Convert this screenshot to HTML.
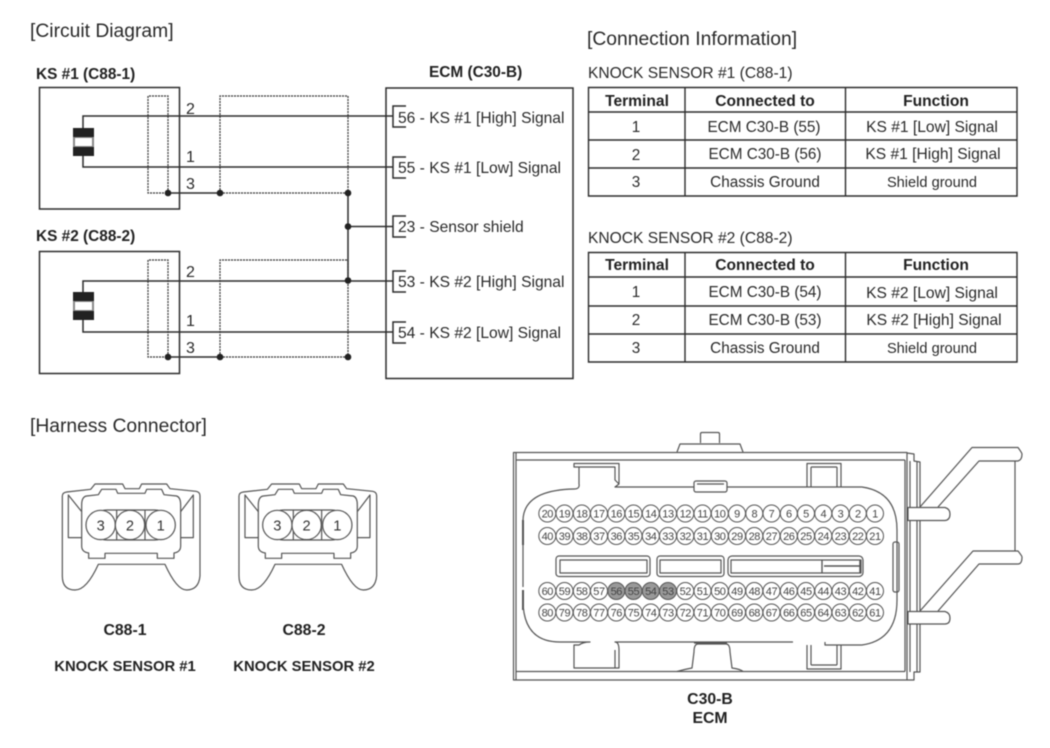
<!DOCTYPE html>
<html><head><meta charset="utf-8"><style>
html,body{margin:0;padding:0;background:#fff}
svg{display:block;filter:blur(.45px)}
text{font-family:"Liberation Sans",sans-serif;fill:#2a2a2a}
.h{font-size:19.3px}
.l{font-size:15.6px}
.b{font-size:15.4px;font-weight:bold;fill:#222}
.t{font-size:15.3px;text-anchor:middle}
.t2{font-size:15.6px;text-anchor:middle}
.t3{font-size:14.6px;text-anchor:middle}
.th{font-size:15.6px;font-weight:bold;text-anchor:middle;fill:#222}
.n{font-size:16px}
.w{fill:none;stroke:#2c2c2c;stroke-width:1.5}
.d{fill:none;stroke:#333;stroke-width:1.2;stroke-dasharray:2 1}
.p{fill:none;stroke:#555;stroke-width:3.6;stroke-linejoin:round}
.c circle{fill:#fff;stroke:#555;stroke-width:1}
.c text{font-size:11px;text-anchor:middle;fill:#444;letter-spacing:-.4px}
.cn{font-size:44px;text-anchor:middle;fill:#333}
.c .s{fill:#999}
.k{font-size:14.8px;font-weight:bold;fill:#222;text-anchor:middle}
.q{font-size:15.8px;font-weight:bold;fill:#222;text-anchor:middle}
</style></head><body>
<svg width="1050" height="748" viewBox="0 0 1050 748" xmlns="http://www.w3.org/2000/svg">
<rect width="1050" height="748" fill="#fff"/>
<text class="h" x="30" y="37">[Circuit Diagram]</text>
<text class="h" x="587" y="45">[Connection Information]</text>
<text class="h" x="30" y="432">[Harness Connector]</text>

<text class="b" x="36" y="79">KS #1 (C88-1)</text>
<text class="b" x="36" y="241">KS #2 (C88-2)</text>
<text class="b" x="429" y="77">ECM (C30-B)</text>

<rect class="w" x="39.5" y="87.5" width="140" height="121.5"/>
<rect class="w" x="39.5" y="251.5" width="140" height="122"/>
<rect class="w" x="386" y="88" width="187" height="290.5"/>

<path class="d" d="M168,193V96H148V193H168M220,193V96H348V193M220,193H348"/>
<path class="d" d="M168,357V260H148V357H168M220,357V260H348V357M220,357H348"/>
<path class="w" d="M83,128V116H393M83,156V167H393"/>
<path class="w" d="M83,292V281H393M83,320V332H393"/>
<path class="w" d="M168,193H220M168,357H220M348,193V281M348,226.5H393"/>
<g fill="#222">
<rect x="73" y="128" width="21" height="28" fill="#888"/>
<rect x="73" y="128" width="21" height="9"/><rect x="73" y="147" width="21" height="9"/>
<rect x="75" y="138" width="17" height="8" fill="#fff"/>
<rect x="73" y="292" width="21" height="28" fill="#888"/>
<rect x="73" y="292" width="21" height="9"/><rect x="73" y="311" width="21" height="9"/>
<rect x="75" y="302" width="17" height="8" fill="#fff"/>
<circle cx="168" cy="193" r="3.3"/><circle cx="220" cy="193" r="3.3"/>
<circle cx="168" cy="357" r="3.3"/><circle cx="220" cy="357" r="3.3"/>
<circle cx="348" cy="193" r="3.3"/><circle cx="348" cy="226.5" r="3.3"/>
<circle cx="348" cy="280.5" r="3.3"/><circle cx="348" cy="357" r="3.3"/>
</g>
<g class="n">
<text x="186" y="114">2</text><text x="186" y="162">1</text><text x="186" y="189">3</text>
<text x="186" y="277">2</text><text x="186" y="326">1</text><text x="186" y="353">3</text>
</g>
<path class="w" d="M406,106H393V127H406M406,157H393V178H406M406,216H393V237H406M406,271H393V292H406M406,322H393V343H406" stroke-width="1.2"/>
<g class="l">
<text x="398" y="123">56 - KS #1 [High] Signal</text>
<text x="398" y="173">55 - KS #1 [Low] Signal</text>
<text x="398" y="232">23 - Sensor shield</text>
<text x="398" y="287">53 - KS #2 [High] Signal</text>
<text x="398" y="338">54 - KS #2 [Low] Signal</text>
</g>

<text class="l" x="588" y="78">KNOCK SENSOR #1 (C88-1)</text>
<text class="l" x="588" y="243">KNOCK SENSOR #2 (C88-2)</text>
<g fill="none" stroke="#2c2c2c" stroke-width="1.4">
<path d="M588.5,87.5H1017V196H588.5ZM588.5,112H1017M588.5,140H1017M588.5,168H1017M685,87.5V196M845.5,87.5V196"/>
<path d="M588.5,252.5H1017V362H588.5ZM588.5,277H1017M588.5,306H1017M588.5,334H1017M685,252.5V362M845.5,252.5V362"/>
</g>
<text class="th" x="637" y="106">Terminal</text><text class="th" x="765" y="106">Connected to</text><text class="th" x="936" y="106">Function</text>
<text class="t" x="636" y="132">1</text><text class="t" x="764" y="132">ECM C30-B (55)</text><text class="t2" x="932" y="132">KS #1 [Low] Signal</text>
<text class="t" x="636" y="160">2</text><text class="t" x="765" y="159">ECM C30-B (56)</text><text class="t2" x="933" y="159">KS #1 [High] Signal</text>
<text class="t" x="636" y="187">3</text><text class="t" x="765" y="187">Chassis Ground</text><text class="t3" x="932" y="187">Shield ground</text>
<text class="th" x="637" y="270">Terminal</text><text class="th" x="765" y="270">Connected to</text><text class="th" x="936" y="270">Function</text>
<text class="t" x="636" y="297">1</text><text class="t" x="765" y="297">ECM C30-B (54)</text><text class="t2" x="932" y="298">KS #2 [Low] Signal</text>
<text class="t" x="636" y="325">2</text><text class="t" x="765" y="325">ECM C30-B (53)</text><text class="t2" x="934" y="325">KS #2 [High] Signal</text>
<text class="t" x="636" y="353">3</text><text class="t" x="765" y="353">Chassis Ground</text><text class="t3" x="932" y="353">Shield ground</text>

<g transform="translate(30,470) scale(.3333)">
<g>
<path class="p" d="M97,78Q97,68 110,66L182,58L195,42H278L285,56H328L335,42H410L420,56L498,64Q510,66 510,78V318Q506,360 470,360Q440,360 405,283H205Q170,360 135,360Q97,360 97,318Z"/>
<path class="p" d="M155,105Q155,80 170,78L205,74L215,58H258L263,70H345L350,58H395L402,74L440,78Q452,82 452,105V228Q452,246 432,249V265H382V250H225V265H176V249Q155,246 155,228Z"/>
<path class="p" d="M155,125L115,75V203H155M452,125L490,75V203H452"/>
<rect class="p" x="190" y="120" width="225" height="90" rx="40"/>
<path class="p" d="M260,120V210M345,120V210"/>
<circle class="p" style="fill:#fff" cx="212" cy="165" r="44"/><circle class="p" style="fill:#fff" cx="300" cy="165" r="44"/><circle class="p" style="fill:#fff" cx="392" cy="165" r="44"/>
<text class="cn" x="212" y="181">3</text><text class="cn" x="300" y="181">2</text><text class="cn" x="392" y="181">1</text>
</g>
<g transform="translate(530,0)">
<path class="p" d="M97,78Q97,68 110,66L182,58L195,42H278L285,56H328L335,42H410L420,56L498,64Q510,66 510,78V318Q506,360 470,360Q440,360 405,283H205Q170,360 135,360Q97,360 97,318Z"/>
<path class="p" d="M155,105Q155,80 170,78L205,74L215,58H258L263,70H345L350,58H395L402,74L440,78Q452,82 452,105V228Q452,246 432,249V265H382V250H225V265H176V249Q155,246 155,228Z"/>
<path class="p" d="M155,125L115,75V203H155M452,125L490,75V203H452"/>
<rect class="p" x="190" y="120" width="225" height="90" rx="40"/>
<path class="p" d="M260,120V210M345,120V210"/>
<circle class="p" style="fill:#fff" cx="212" cy="165" r="44"/><circle class="p" style="fill:#fff" cx="300" cy="165" r="44"/><circle class="p" style="fill:#fff" cx="392" cy="165" r="44"/>
<text class="cn" x="212" y="181">3</text><text class="cn" x="300" y="181">2</text><text class="cn" x="392" y="181">1</text>
</g>
</g>
<text class="q" x="125" y="635">C88-1</text><text class="q" x="304" y="635">C88-2</text>
<text class="k" x="125" y="671">KNOCK SENSOR #1</text><text class="k" x="304" y="671">KNOCK SENSOR #2</text>
<text class="q" x="710" y="704">C30-B</text><text class="q" x="710" y="723">ECM</text>

<g fill="none" stroke="#555" stroke-width="1.2" stroke-linejoin="round">
<path d="M513.5,452.5H907V680H513.5ZM516,460H905M516,671.5H905M516,452.5V680M905,460V671.5"/>
<path d="M907,453L914,454V461L920,462V672H914V680H907M910,461V672M917,462V672"/>
<path d="M677,452L680,444H740L743,452M700.5,443V434Q700.5,432.5 702,432.5H718Q719.5,432.5 719.5,434V443"/>
<path d="M677,671.5Q686,669 692,668L694,652Q694,644 698,644H726Q730,644 730,652L732,668Q740,669 743,671.5M694,643H727"/>
<path d="M574,489Q580,489 579,484V467H574V463.5H619V484L615,487H694M578,467H615V480L619,484M727,487H862Q897,492 897,530V600Q897,640 862,645H825V642M793,642H615Q619,642 619,650V668H574V645H579Q583,642 590,642H560Q523,642 523,600V590M523,587V543M523,520Q524,490 574,489M615,668V650"/>
<path d="M523,520V545" stroke-width="2"/><path d="M523,590V610" stroke-width="2"/>
<rect x="694" y="481" width="33" height="11" rx="2" fill="#fff"/><path d="M697,484H724"/>
<path d="M807,487V463.5H841V487M811,467H837M811,487V467M837,487V467M807,645V669H841V645M811,665H837M811,645V665M837,645V665"/>
<rect x="893" y="542" width="6" height="50" rx="2"/>
<rect x="556" y="556" width="94" height="20.5" rx="3"/><rect x="560" y="560" width="87" height="13"/>
<rect x="657" y="556" width="67" height="20.5" rx="3"/><rect x="660" y="560" width="61" height="13"/>
<rect x="728" y="556" width="135" height="20.5" rx="4"/><rect x="731" y="560" width="91" height="13"/>
<rect x="822" y="560" width="39" height="13"/><path d="M860,560V573M824,566H860" stroke-width="1.5"/>
<path d="M920,507L972,447.5H1018Q1022,453 1022,454Q1022,460 1018,461H979L938,507M1015,461V551"/>
<path d="M920,611L973,551H1018Q1022,556 1022,557Q1022,564 1018,564H979L938,611"/>
<path d="M908,507.5H945Q950,509 950,514Q950,520 945,520.5H908ZM908,611.5H945Q950,613 950,618Q950,624 945,624H908Z" fill="#fff"/>
</g>

<g class="c">
<circle cx="547.3" cy="513.5" r="8.5"/><circle cx="564.5" cy="513.5" r="8.5"/><circle cx="581.8" cy="513.5" r="8.5"/><circle cx="599" cy="513.5" r="8.5"/><circle cx="616.3" cy="513.5" r="8.5"/><circle cx="633.5" cy="513.5" r="8.5"/><circle cx="650.8" cy="513.5" r="8.5"/><circle cx="668" cy="513.5" r="8.5"/><circle cx="685.3" cy="513.5" r="8.5"/><circle cx="702.5" cy="513.5" r="8.5"/><circle cx="719.8" cy="513.5" r="8.5"/><circle cx="737" cy="513.5" r="8.5"/><circle cx="754.3" cy="513.5" r="8.5"/><circle cx="771.5" cy="513.5" r="8.5"/><circle cx="788.8" cy="513.5" r="8.5"/><circle cx="806" cy="513.5" r="8.5"/><circle cx="823.3" cy="513.5" r="8.5"/><circle cx="840.5" cy="513.5" r="8.5"/><circle cx="857.8" cy="513.5" r="8.5"/><circle cx="875" cy="513.5" r="8.5"/>
<circle cx="547.3" cy="536" r="8.5"/><circle cx="564.5" cy="536" r="8.5"/><circle cx="581.8" cy="536" r="8.5"/><circle cx="599" cy="536" r="8.5"/><circle cx="616.3" cy="536" r="8.5"/><circle cx="633.5" cy="536" r="8.5"/><circle cx="650.8" cy="536" r="8.5"/><circle cx="668" cy="536" r="8.5"/><circle cx="685.3" cy="536" r="8.5"/><circle cx="702.5" cy="536" r="8.5"/><circle cx="719.8" cy="536" r="8.5"/><circle cx="737" cy="536" r="8.5"/><circle cx="754.3" cy="536" r="8.5"/><circle cx="771.5" cy="536" r="8.5"/><circle cx="788.8" cy="536" r="8.5"/><circle cx="806" cy="536" r="8.5"/><circle cx="823.3" cy="536" r="8.5"/><circle cx="840.5" cy="536" r="8.5"/><circle cx="857.8" cy="536" r="8.5"/><circle cx="875" cy="536" r="8.5"/>
<circle cx="547.3" cy="591" r="8.5"/><circle cx="564.5" cy="591" r="8.5"/><circle cx="581.8" cy="591" r="8.5"/><circle cx="599" cy="591" r="8.5"/><circle class="s" cx="616.3" cy="591" r="8.5"/><circle class="s" cx="633.5" cy="591" r="8.5"/><circle class="s" cx="650.8" cy="591" r="8.5"/><circle class="s" cx="668" cy="591" r="8.5"/><circle cx="685.3" cy="591" r="8.5"/><circle cx="702.5" cy="591" r="8.5"/><circle cx="719.8" cy="591" r="8.5"/><circle cx="737" cy="591" r="8.5"/><circle cx="754.3" cy="591" r="8.5"/><circle cx="771.5" cy="591" r="8.5"/><circle cx="788.8" cy="591" r="8.5"/><circle cx="806" cy="591" r="8.5"/><circle cx="823.3" cy="591" r="8.5"/><circle cx="840.5" cy="591" r="8.5"/><circle cx="857.8" cy="591" r="8.5"/><circle cx="875" cy="591" r="8.5"/>
<circle cx="547.3" cy="612.5" r="8.5"/><circle cx="564.5" cy="612.5" r="8.5"/><circle cx="581.8" cy="612.5" r="8.5"/><circle cx="599" cy="612.5" r="8.5"/><circle cx="616.3" cy="612.5" r="8.5"/><circle cx="633.5" cy="612.5" r="8.5"/><circle cx="650.8" cy="612.5" r="8.5"/><circle cx="668" cy="612.5" r="8.5"/><circle cx="685.3" cy="612.5" r="8.5"/><circle cx="702.5" cy="612.5" r="8.5"/><circle cx="719.8" cy="612.5" r="8.5"/><circle cx="737" cy="612.5" r="8.5"/><circle cx="754.3" cy="612.5" r="8.5"/><circle cx="771.5" cy="612.5" r="8.5"/><circle cx="788.8" cy="612.5" r="8.5"/><circle cx="806" cy="612.5" r="8.5"/><circle cx="823.3" cy="612.5" r="8.5"/><circle cx="840.5" cy="612.5" r="8.5"/><circle cx="857.8" cy="612.5" r="8.5"/><circle cx="875" cy="612.5" r="8.5"/>

<text x="547.3" y="517.5">20</text><text x="564.5" y="517.5">19</text><text x="581.8" y="517.5">18</text><text x="599" y="517.5">17</text><text x="616.3" y="517.5">16</text><text x="633.5" y="517.5">15</text><text x="650.8" y="517.5">14</text><text x="668" y="517.5">13</text><text x="685.3" y="517.5">12</text><text x="702.5" y="517.5">11</text><text x="719.8" y="517.5">10</text><text x="737" y="517.5">9</text><text x="754.3" y="517.5">8</text><text x="771.5" y="517.5">7</text><text x="788.8" y="517.5">6</text><text x="806" y="517.5">5</text><text x="823.3" y="517.5">4</text><text x="840.5" y="517.5">3</text><text x="857.8" y="517.5">2</text><text x="875" y="517.5">1</text>
<text x="547.3" y="540">40</text><text x="564.5" y="540">39</text><text x="581.8" y="540">38</text><text x="599" y="540">37</text><text x="616.3" y="540">36</text><text x="633.5" y="540">35</text><text x="650.8" y="540">34</text><text x="668" y="540">33</text><text x="685.3" y="540">32</text><text x="702.5" y="540">31</text><text x="719.8" y="540">30</text><text x="737" y="540">29</text><text x="754.3" y="540">28</text><text x="771.5" y="540">27</text><text x="788.8" y="540">26</text><text x="806" y="540">25</text><text x="823.3" y="540">24</text><text x="840.5" y="540">23</text><text x="857.8" y="540">22</text><text x="875" y="540">21</text>
<text x="547.3" y="595">60</text><text x="564.5" y="595">59</text><text x="581.8" y="595">58</text><text x="599" y="595">57</text><text x="616.3" y="595">56</text><text x="633.5" y="595">55</text><text x="650.8" y="595">54</text><text x="668" y="595">53</text><text x="685.3" y="595">52</text><text x="702.5" y="595">51</text><text x="719.8" y="595">50</text><text x="737" y="595">49</text><text x="754.3" y="595">48</text><text x="771.5" y="595">47</text><text x="788.8" y="595">46</text><text x="806" y="595">45</text><text x="823.3" y="595">44</text><text x="840.5" y="595">43</text><text x="857.8" y="595">42</text><text x="875" y="595">41</text>
<text x="547.3" y="616.5">80</text><text x="564.5" y="616.5">79</text><text x="581.8" y="616.5">78</text><text x="599" y="616.5">77</text><text x="616.3" y="616.5">76</text><text x="633.5" y="616.5">75</text><text x="650.8" y="616.5">74</text><text x="668" y="616.5">73</text><text x="685.3" y="616.5">72</text><text x="702.5" y="616.5">71</text><text x="719.8" y="616.5">70</text><text x="737" y="616.5">69</text><text x="754.3" y="616.5">68</text><text x="771.5" y="616.5">67</text><text x="788.8" y="616.5">66</text><text x="806" y="616.5">65</text><text x="823.3" y="616.5">64</text><text x="840.5" y="616.5">63</text><text x="857.8" y="616.5">62</text><text x="875" y="616.5">61</text>
</g>
</svg>
</body></html>
